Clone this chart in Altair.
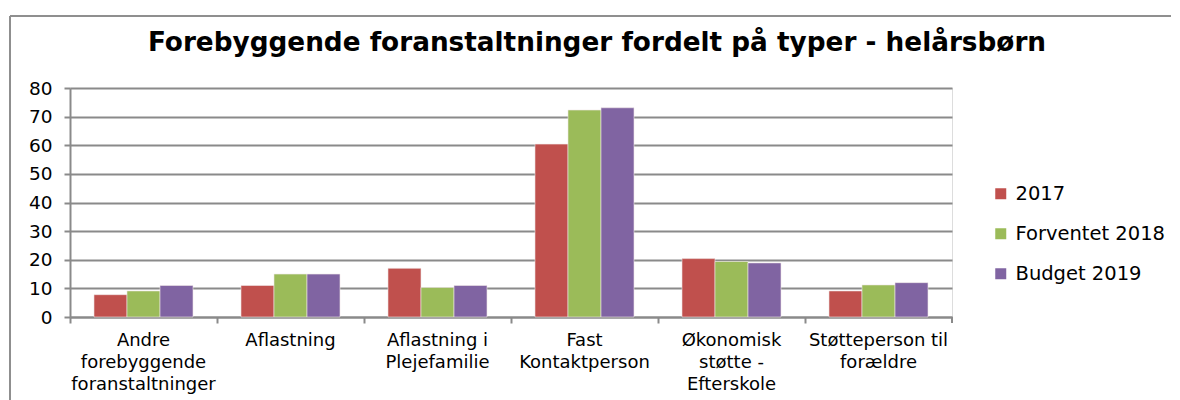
import altair as alt
import pandas as pd

categories = [
    "Andre|forebyggende|foranstaltninger",
    "Aflastning",
    "Aflastning i|Plejefamilie",
    "Fast|Kontaktperson",
    "Økonomisk|støtte -|Efterskole",
    "Støtteperson til|forældre",
]
series = ["2017", "Forventet 2018", "Budget 2019"]
v2017 = [7.8, 11.0, 17.0, 60.4, 20.4, 9.1]
v2018 = [9.1, 15.0, 10.3, 72.3, 19.4, 11.2]
v2019 = [11.0, 15.0, 11.0, 73.1, 18.9, 12.0]
colors = ["#C0504D", "#9BBB59", "#8064A2"]
title = "Forebyggende foranstaltninger fordelt på typer - helårsbørn"

rows = []
for s, vals in zip(series, [v2017, v2018, v2019]):
    for c, v in zip(categories, vals):
        rows.append({"cat": c, "series": s, "value": v})
df = pd.DataFrame(rows)

FONT = "DejaVu Sans"
GRAY = "#8a8a8a"

bars = alt.Chart(df).mark_bar(stroke="#f0e8e8", strokeWidth=0.6).encode(
    x=alt.X("cat:N", sort=categories,
            scale=alt.Scale(paddingInner=0, paddingOuter=0),
            axis=alt.Axis(title=None, labelAngle=0, labelExpr="split(datum.label, '|')",
                          labelFontSize=18, labelFont=FONT, labelColor="#000000",
                          labelPadding=8, labelLineHeight=22, labelBaseline="top",
                          bandPosition=0, tickSize=6, tickColor=GRAY, tickWidth=2,
                          domainColor=GRAY, domainWidth=2, grid=False)),
    xOffset=alt.XOffset("series:N", sort=series,
                        scale=alt.Scale(paddingInner=0, paddingOuter=0.727)),
    y=alt.Y("value:Q", scale=alt.Scale(domain=[0, 80], nice=False),
            axis=alt.Axis(title=None, values=[0, 10, 20, 30, 40, 50, 60, 70, 80],
                          labelFontSize=18.5, labelFont=FONT, labelColor="#000000",
                          labelPadding=12, tickSize=6, tickColor=GRAY, tickWidth=2,
                          domainColor=GRAY, domainWidth=2,
                          gridColor=GRAY, gridWidth=2)),
    color=alt.Color("series:N", sort=series,
                    scale=alt.Scale(domain=series, range=colors),
                    legend=alt.Legend(title=None, orient="none", legendX=921, legendY=96,
                                      labelFontSize=19.5, labelFont=FONT, labelColor="#000000",
                                      symbolType="square", symbolSize=121,
                                      symbolStrokeWidth=0, rowPadding=19, labelOffset=5)),
)

one = alt.Data(values=[{"a": 1}])
frame_top = alt.Chart(one).mark_rule(color="#8f8f8f", strokeWidth=2).encode(
    x=alt.value(-60), x2=alt.value(1101), y=alt.value(-72)
)
frame_left = alt.Chart(one).mark_rule(color="#8f8f8f", strokeWidth=2).encode(
    x=alt.value(-60), y=alt.value(-72), y2=alt.value(312)
)

endtick = alt.Chart(one).mark_rule(
    color=GRAY, strokeWidth=2
).encode(x=alt.value(882), y=alt.value(229), y2=alt.value(235))

title_text = alt.Chart(alt.Data(values=[{"t": title}])).mark_text(
    fontSize=26.3, font=FONT, fontWeight="bold", color="#000000",
    align="center", baseline="middle"
).encode(text="t:N", x=alt.value(527), y=alt.value(-45))

chart = alt.layer(frame_top, frame_left, bars, endtick, title_text).properties(
    width=882, height=229,
    padding={"left": 1, "top": 7, "right": 0, "bottom": 0},
    autosize=alt.AutoSizeParams(type="pad"),
).configure_view(stroke=None).configure(background="white")

chart.save("out.html", embed_options={"renderer": "svg", "actions": False})
